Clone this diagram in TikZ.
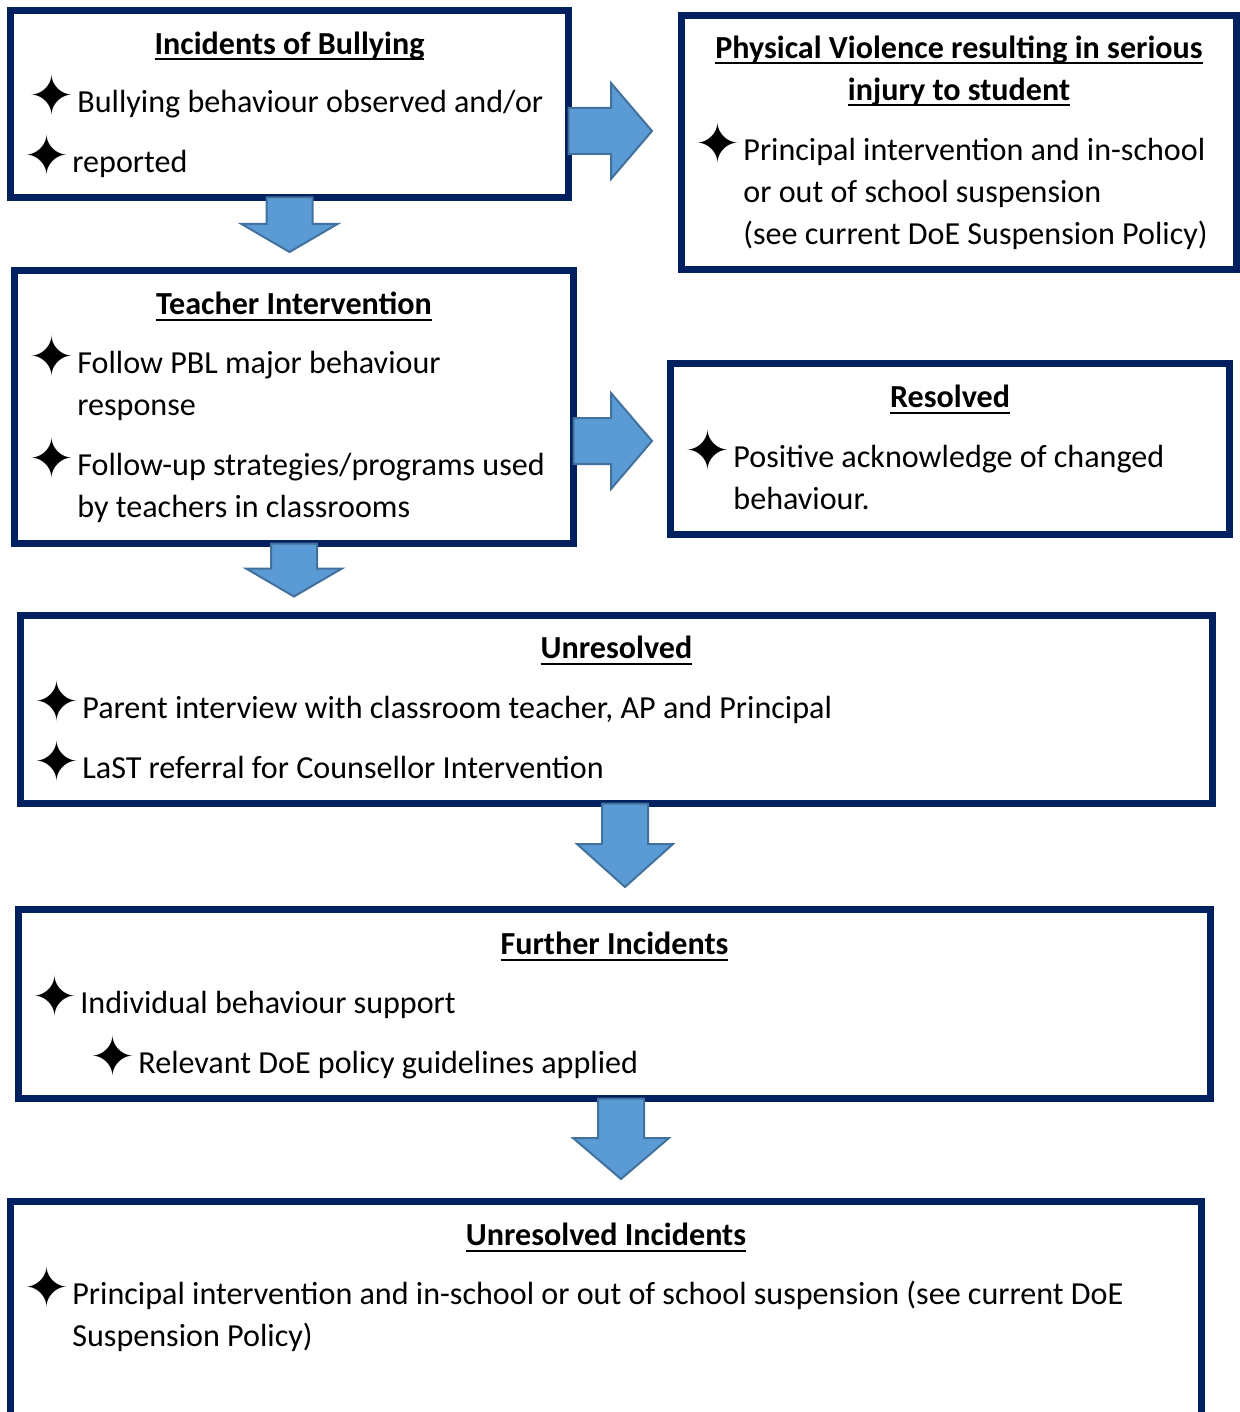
\documentclass[tikz,border=0pt]{standalone}
\usepackage{fontspec}
\setmainfont{Carlito}
\newfontfamily\starfont{DejaVu Sans}
\usetikzlibrary{calc,fit}

\definecolor{boxnavy}{HTML}{002060}
\definecolor{arrowfill}{HTML}{5B9BD5}
\definecolor{arrowline}{HTML}{41719C}

\newlength\ulwd
\newcommand\ul[1]{\leavevmode\settowidth\ulwd{#1}\rlap{\rule[-3pt]{\ulwd}{1pt}}#1}
\newcommand\bul{\leavevmode\llap{\smash{\raisebox{-1.6pt}{\starfont\fontsize{28}{28}\selectfont ✦}}\hspace{0.75pt}}}

% block arrows: start, tip, head length
\newcommand\downblock[3]{%
  \draw[blockarrow] let \p1=#1, \p2=#2 in
    (\x1-11.5pt,\y1) -- (\x1-11.5pt,\y2+#3) -- (\x1-24pt,\y2+#3) -- (\x1,\y2)
    -- (\x1+24pt,\y2+#3) -- (\x1+11.5pt,\y2+#3) -- (\x1+11.5pt,\y1) -- cycle;}
\newcommand\rightblock[3]{%
  \draw[blockarrow] let \p1=#1, \p2=#2 in
    (\x1,\y1+11.5pt) -- (\x2-#3,\y1+11.5pt) -- (\x2-#3,\y1+24pt) -- (\x2,\y1)
    -- (\x2-#3,\y1-24pt) -- (\x2-#3,\y1-11.5pt) -- (\x1,\y1-11.5pt) -- cycle;}

\tikzset{
  flowbox/.style={draw=boxnavy, line width=3.5pt, fill=white, inner sep=0pt, outer sep=0pt},
  heading/.style={font=\bfseries\fontsize{16.05}{21}\selectfont, align=flush center, text width=500pt, anchor=base, inner sep=0pt},
  bodytext/.style={font=\fontsize{16.05}{21}\selectfont, align=flush left, text width=580pt, anchor=base west, inner sep=0pt},
  blockarrow/.style={fill=arrowfill, draw=arrowline, line width=1pt},
}

\begin{document}
\begin{tikzpicture}[x=0.5pt,y=-0.5pt]
    \useasboundingbox (0,0) rectangle (1240,1412);
    \clip (0,0) rectangle (1240,1412);
    % boxes
    \node[flowbox, fit={(10.5,10.5) (568.5,197.5)}] (bully) {};
    \node[flowbox, fit={(681.5,15.5) (1236.5,269.5)}] (violence) {};
    \node[flowbox, fit={(14.5,270.5) (573.5,543.5)}] (teacher) {};
    \node[flowbox, fit={(670.5,363.5) (1229.5,534.5)}] (resolved) {};
    \node[flowbox, fit={(20.5,615) (1212.5,803.5)}] (unres) {};
    \node[flowbox, fit={(18.5,909.5) (1210.5,1098.5)}] (further) {};
    \node[flowbox, fit={(10.5,1201.5) (1201.5,1450)}] (final) {};
    % headings
    \node[heading] (bully-t) at ($(bully.north)+(0,44)$) {\ul{Incidents of Bullying}};
    \node[heading] (violence-t) at ($(violence.north)+(0,43)$)
        {\ul{Physical Violence resulting in serious}\\\ul{injury to student}};
    \node[heading] (teacher-t) at ($(teacher.north)+(0,44)$) {\ul{Teacher Intervention}};
    \node[heading] (resolved-t) at ($(resolved.north)+(0,44)$) {\ul{Resolved}};
    \node[heading] (unres-t) at ($(unres.north)+(0,43.5)$) {\ul{Unresolved}};
    \node[heading] (further-t) at ($(further.north)+(0,45)$) {\ul{Further Incidents}};
    \node[heading] (final-t) at ($(final.north)+(0,44)$) {\ul{Unresolved Incidents}};
    % bullet text
    \node[bodytext] (bully-b) at ($(bully.north west)+(66.5,102)$)
        {\bul Bullying behaviour observed and/or\\[9pt]\hspace*{-2.5pt}\bul reported};
    \node[bodytext] (violence-b) at ($(violence.north west)+(61.5,145)$)
        {\bul Principal intervention and in-school\\or out of school suspension\\(see current DoE Suspension Policy)};
    \node[bodytext] (teacher-b) at ($(teacher.north west)+(62.5,103)$)
        {\bul Follow PBL major behaviour\\response\\[9pt]\bul Follow-up strategies/programs used\\by teachers in classrooms};
    \node[bodytext] (resolved-b) at ($(resolved.north west)+(62.5,104)$)
        {\bul Positive acknowledge of changed\\behaviour.};
    \node[bodytext] (unres-b) at ($(unres.north west)+(61.5,103.5)$)
        {\bul Parent interview with classroom teacher, AP and Principal\\[9pt]\bul LaST referral for Counsellor Intervention};
    \node[bodytext] (further-b) at ($(further.north west)+(61.5,104)$)
        {\bul Individual behaviour support\\[9pt]\hspace*{29pt}\bul Relevant DoE policy guidelines applied};
    \node[bodytext] (final-b) at ($(final.north west)+(61.5,103)$)
        {\bul Principal intervention and in-school or out of school suspension (see current DoE\\Suspension Policy)};
    % arrows
    \rightblock{(bully.east |- 0,131)}{($(violence.west)+(-29.5,0)$)}{20.5pt}
    \downblock{(bully.south)}{($(teacher.north)+(0,-18.5)$)}{14pt}
    \rightblock{(teacher.east |- 0,441)}{($(resolved.west)+(-18.5,0)$)}{20.5pt}
    \downblock{(teacher.south)}{($(unres.north)+(0,-18.5)$)}{14pt}
    \downblock{($(unres.south)+(8.5,0)$)}{($(further.north)+(0,-22.5)$)}{21.5pt}
    \downblock{($(further.south)+(6.5,0)$)}{($(final.north)+(0,-22.5)$)}{20.5pt}
\end{tikzpicture}
\end{document}
